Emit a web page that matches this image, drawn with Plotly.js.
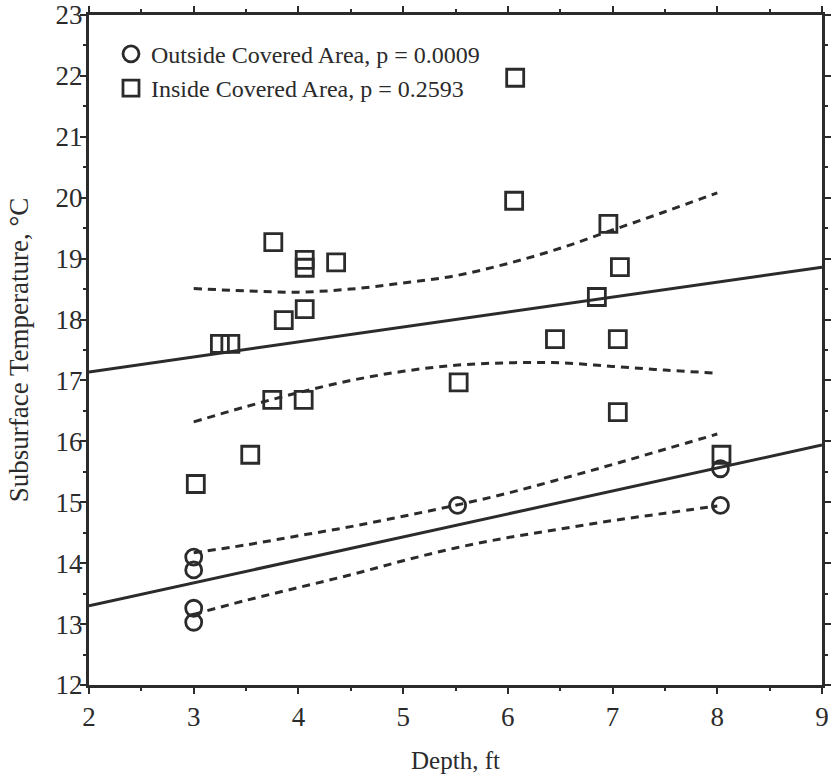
<!DOCTYPE html>
<html>
<head>
<meta charset="utf-8">
<script src="https://cdn.plot.ly/plotly-3.0.1.min.js"></script>
<style>html,body{margin:0;padding:0;background:#fff;}#chart{width:833px;height:782px;}</style>
</head>
<body>
<div id="chart"></div>
<script>
// Outside covered area (circles)
const outsideDepth = [3.0, 3.0, 3.0, 3.0, 5.52, 8.03, 8.03];
const outsideTemp  = [14.10, 13.89, 13.26, 13.03, 14.95, 15.55, 14.95];
// Inside covered area (squares)
const insideDepth = [3.02, 3.25, 3.35, 3.54, 3.75, 3.76, 3.86, 4.05, 4.06, 4.06, 4.06, 4.36,
                     5.53, 6.07, 6.06, 6.96, 7.07, 6.85, 6.45, 7.05, 7.05, 8.04];
const insideTemp  = [15.30, 17.60, 17.60, 15.78, 16.68, 19.27, 17.99, 16.68, 18.17, 18.85, 18.98, 18.94,
                     16.97, 21.97, 19.95, 19.57, 18.86, 18.37, 17.68, 17.68, 16.48, 15.78];
// Regression lines
const fitX = [2, 9];
const insideFit = [17.14, 18.86];
const outsideFit = [13.30, 15.94];
// Confidence bands
const bandX = [3, 3.5, 4, 4.5, 5, 5.5, 6, 6.5, 7, 7.5, 8];
const insideUpper  = [18.51, 18.47, 18.45, 18.50, 18.60, 18.72, 18.92, 19.17, 19.47, 19.77, 20.08];
const insideLower  = [16.32, 16.57, 16.80, 17.00, 17.15, 17.25, 17.29, 17.29, 17.23, 17.17, 17.12];
const outsideUpper = [14.17, 14.30, 14.45, 14.60, 14.77, 14.95, 15.15, 15.38, 15.62, 15.87, 16.12];
const outsideLower = [13.16, 13.39, 13.60, 13.81, 14.04, 14.25, 14.42, 14.56, 14.70, 14.82, 14.94];

const ink = '#2b2b2b';
const dash = {color: ink, width: 3, dash: '8px,6px', shape: 'spline'};
const solid = {color: ink, width: 3};

const traces = [
  {x: fitX, y: insideFit, mode: 'lines', line: solid, showlegend: false},
  {x: fitX, y: outsideFit, mode: 'lines', line: solid, showlegend: false},
  {x: bandX, y: insideUpper, mode: 'lines', line: dash, showlegend: false},
  {x: bandX, y: insideLower, mode: 'lines', line: dash, showlegend: false},
  {x: bandX, y: outsideUpper, mode: 'lines', line: dash, showlegend: false},
  {x: bandX, y: outsideLower, mode: 'lines', line: dash, showlegend: false},
  {x: outsideDepth, y: outsideTemp, mode: 'markers', name: 'Outside Covered Area, p = 0.0009',
   marker: {symbol: 'circle-open', size: 16, color: ink, line: {width: 2.8, color: ink}}},
  {x: insideDepth, y: insideTemp, mode: 'markers', name: 'Inside Covered Area, p = 0.2593',
   marker: {symbol: 'square-open', size: 17, color: ink, line: {width: 2.8, color: ink}}}
];

const fam = '"Liberation Serif", "DejaVu Serif", serif';

const layout = {
  width: 833, height: 782,
  margin: {l: 89, r: 11, t: 15, b: 97},
  paper_bgcolor: '#fff', plot_bgcolor: '#fff',
  font: {family: fam, color: ink},
  showlegend: true,
  legend: {x: 0.03, y: 0.975, xanchor: 'left', yanchor: 'top', bgcolor: 'rgba(0,0,0,0)',
           font: {family: fam, size: 24, color: ink}, itemwidth: 30, tracegroupgap: 0},
  xaxis: {
    range: [2, 9], tickvals: [2,3,4,5,6,7,8,9], ticks: 'outside', ticklen: 6, tickwidth: 2, tickcolor: ink,
    minor: {dtick: 0.5, ticks: 'outside', ticklen: 3, tickwidth: 2, tickcolor: ink},
    showline: true, linewidth: 3, linecolor: ink, mirror: 'ticks', showgrid: false, zeroline: false,
    ticklabeloverflow: 'allow',
    tickfont: {family: fam, size: 27, color: ink},
    title: {text: 'Depth, ft', font: {family: fam, size: 25, color: ink}, standoff: 21}
  },
  yaxis: {
    range: [12, 23], dtick: 1, ticks: 'outside', ticklen: 6, tickwidth: 2, tickcolor: ink,
    minor: {dtick: 0.5, ticks: 'outside', ticklen: 3, tickwidth: 2, tickcolor: ink},
    showline: true, linewidth: 3, linecolor: ink, mirror: 'ticks', showgrid: false, zeroline: false,
    ticklabeloverflow: 'allow', ticklabelstandoff: -8,
    tickfont: {family: fam, size: 27, color: ink},
    title: {text: 'Subsurface Temperature, °C', font: {family: fam, size: 27, color: ink}, standoff: 20}
  }
};

Plotly.newPlot('chart', traces, layout, {displayModeBar: false, staticPlot: true});
</script>
</body>
</html>
